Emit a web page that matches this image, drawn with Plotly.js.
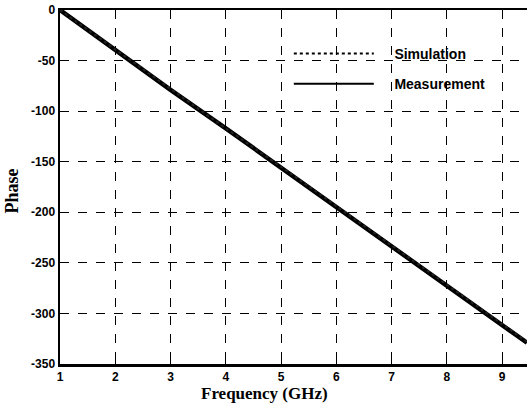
<!DOCTYPE html>
<html>
<head>
<meta charset="utf-8">
<script src="https://cdn.plot.ly/plotly-3.0.1.min.js"></script>
<style>html,body{margin:0;padding:0;background:#fff;}#chart{width:527px;height:408px;}</style>
</head>
<body>
<div id="chart"></div>
<script>
var freq = [1, 2, 3, 4, 5, 6, 7, 8, 9, 9.45];
var simulation = [0, -39, -78, -117, -155, -194, -233, -272, -311, -328];
var measurement = [0, -40, -79, -117, -156, -195, -233, -272, -311, -329];
var yTicks = [0, -50, -100, -150, -200, -250, -300, -350];
var xTicks = [1, 2, 3, 4, 5, 6, 7, 8, 9];
var seriesNames = ['Simulation', 'Measurement'];

var pad = '\u00a0\u00a0\u00a0\u00a0';
var traces = [
  {x: freq, y: measurement, name: seriesNames[1], mode: 'lines', showlegend: false,
   line: {color: '#000', width: 4.5}},
  {x: freq, y: simulation, name: seriesNames[0], mode: 'lines', showlegend: false,
   line: {color: '#222', width: 2, dash: 'dot'}},
  // legend entries (thin line samples as in the reference)
  {x: [null], y: [null], name: pad + seriesNames[0], mode: 'lines', legendgroup: 'a',
   line: {color: '#000', width: 2, dash: 'dot'}},
  {x: [null], y: [null], name: pad + seriesNames[1], mode: 'lines', legendgroup: 'b',
   line: {color: '#000', width: 1.8}}
];

var tickFont = {family: 'Liberation Sans, Arial, sans-serif', size: 12, color: '#000', weight: 'bold'};
var serif = 'Liberation Serif, Times New Roman, serif';
var layout = {
  width: 527, height: 408,
  margin: {l: 60, r: 0, t: 10, b: 44},
  paper_bgcolor: '#fff', plot_bgcolor: '#fff',
  showlegend: true,
  legend: {x: 0.49, y: 0.921, xanchor: 'left', yanchor: 'top', bgcolor: 'rgba(0,0,0,0)',
           traceorder: 'grouped', tracegroupgap: 9, itemwidth: 80,
           font: {family: 'Liberation Sans, Arial, sans-serif', size: 14, color: '#000', weight: 'bold'}},
  xaxis: {range: [1, 9.45], tickvals: xTicks, ticktext: xTicks.map(String),
          showgrid: true, gridcolor: '#000', griddash: 'dash', gridwidth: 1,
          showline: true, linecolor: '#000', linewidth: 2.5, mirror: true,
          ticks: 'inside', ticklen: 4, tickcolor: '#000', zeroline: false,
          tickfont: tickFont},
  yaxis: {range: [-350, 0], tickvals: yTicks, ticktext: yTicks.map(String),
          showgrid: true, gridcolor: '#000', griddash: 'dash', gridwidth: 1,
          showline: true, linecolor: '#000', linewidth: 2.5,
          ticks: 'inside', ticklen: 4, tickcolor: '#000', zeroline: false,
          tickfont: tickFont},
  annotations: [
    {text: 'Frequency (GHz)', xref: 'paper', yref: 'paper', x: 0.437, y: -0.084,
     xanchor: 'center', yanchor: 'middle', showarrow: false,
     font: {family: serif, size: 17, color: '#000', weight: 'bold'}},
    {text: 'Phase', xref: 'paper', yref: 'paper', x: -0.103, y: 0.49, textangle: -90,
     xanchor: 'center', yanchor: 'middle', showarrow: false,
     font: {family: serif, size: 18, color: '#000', weight: 'bold'}}
  ]
};
Plotly.newPlot('chart', traces, layout, {staticPlot: true, displayModeBar: false});
</script>
</body>
</html>
